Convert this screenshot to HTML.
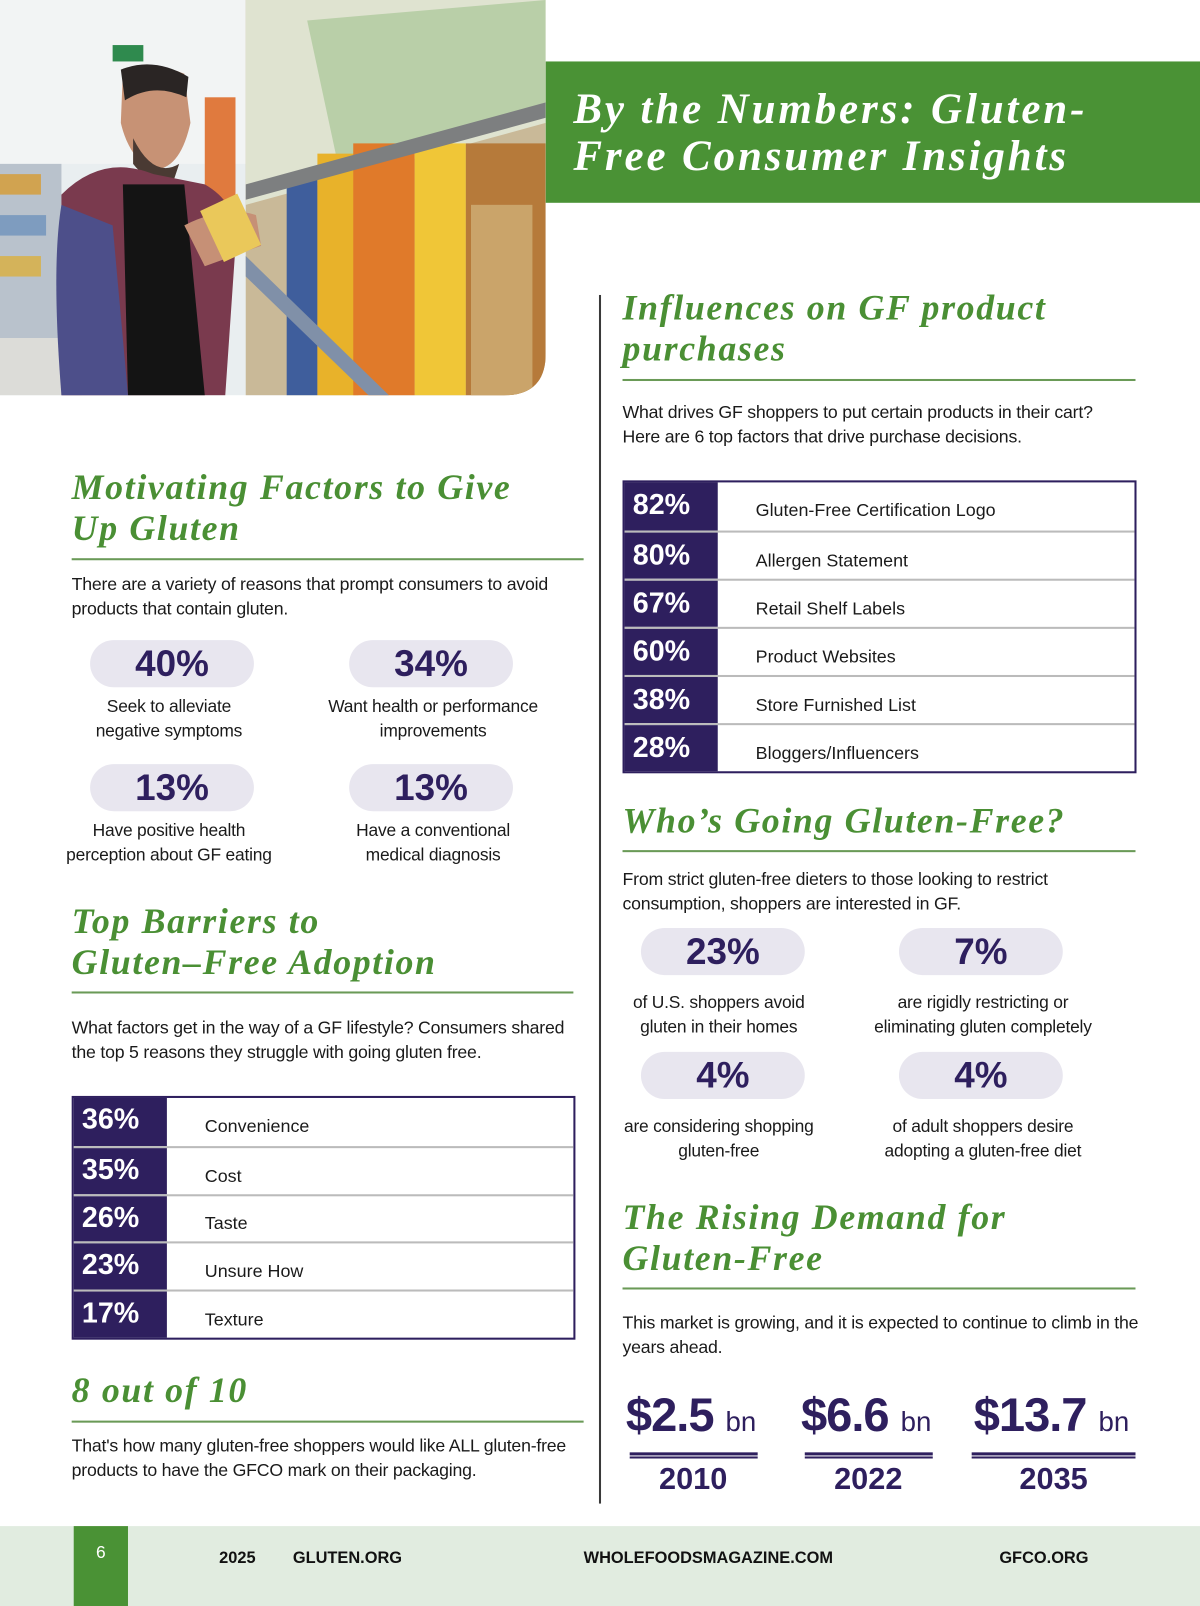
<!DOCTYPE html>
<html><head><meta charset="utf-8">
<style>
html,body{margin:0;padding:0;width:1200px;height:1606px;overflow:hidden;background:#fff}
#wrap{position:absolute;left:0;top:0;width:1172px;height:1568px;transform:scale(1.02389,1.02423);transform-origin:0 0;font-family:"Liberation Sans",sans-serif;color:#1a1a1a}
.abs{position:absolute}
.h{position:absolute;font-family:"Liberation Serif",serif;font-weight:bold;font-style:italic;color:#4a8f34;font-size:35px;line-height:40px;letter-spacing:1.6px;white-space:nowrap}
.rule{position:absolute;height:2px;background:#6a9a57}
.p{position:absolute;font-size:17.3px;line-height:24px;color:#1a1a1a;letter-spacing:-0.2px}
.pill{position:absolute;width:160px;height:46px;border-radius:23px;background:#e8e6ef;color:#2e1f5e;font-weight:bold;font-size:36px;line-height:46px;text-align:center}
.lbl{position:absolute;width:280px;text-align:center;font-size:17px;line-height:24px;letter-spacing:-0.2px}
.tbl{position:absolute;border:2px solid #2e1f5e;box-sizing:border-box;background:#fff}
.row{position:absolute;left:0;right:0;border-top:2px solid #bbb;box-sizing:border-box}
.pct{position:absolute;left:0;top:0;bottom:0;background:#2e1f5e;color:#fff;font-weight:bold;font-size:28px;padding-left:8px;box-sizing:border-box}
.nm{position:absolute;font-size:17.5px}
.big{position:absolute;color:#2e1f5e;font-weight:bold;font-size:46px;text-align:center;width:160px;letter-spacing:-1px}
.big span{font-weight:normal;font-size:27px;letter-spacing:0}
.dl{position:absolute;height:6px;border-top:3px solid #2e1f5e;border-bottom:2px solid #2e1f5e;box-sizing:border-box}
.yr{position:absolute;color:#2e1f5e;font-weight:bold;font-size:30px;text-align:center;width:140px}
.ft{position:absolute;top:1513px;font-weight:bold;font-size:16px;color:#111}
</style></head><body>
<div id="wrap">

<svg class="abs" style="left:0;top:0" width="533" height="386">
<defs><clipPath id="c"><path d="M0 0H533V345Q533 386 492 386H0Z"/></clipPath></defs>
<g clip-path="url(#c)">
<rect width="533" height="386" fill="#e9eef0"/>
<rect x="0" y="0" width="260" height="160" fill="#f2f4f4"/>
<rect x="0" y="160" width="60" height="170" fill="#b9c2cc"/>
<rect x="0" y="170" width="40" height="20" fill="#d1a350"/><rect x="0" y="210" width="45" height="20" fill="#7e9cbf"/><rect x="0" y="250" width="40" height="20" fill="#d4b35a"/>
<rect x="0" y="330" width="80" height="56" fill="#dcdcd8"/>
<rect x="110" y="44" width="30" height="16" fill="#2f8a4e"/>
<rect x="200" y="95" width="30" height="120" fill="#e07a3e"/>
<polygon points="240,0 533,0 533,386 240,386" fill="#c9b998"/>
<polygon points="240,0 533,0 533,120 240,200" fill="#dfe3d0"/>
<polygon points="300,20 533,0 533,100 330,160" fill="#b9cfa8"/>
<rect x="280" y="170" width="30" height="216" fill="#3f5e9c"/>
<rect x="310" y="150" width="40" height="236" fill="#e8b22a"/>
<rect x="345" y="140" width="60" height="246" fill="#e07a2a"/>
<rect x="405" y="140" width="50" height="246" fill="#f0c637"/>
<rect x="455" y="140" width="78" height="246" fill="#b67a3a"/>
<rect x="460" y="200" width="60" height="186" fill="#caa46a"/>
<polygon points="240,180 533,100 533,115 240,195" fill="#7d7f80"/>
<polygon points="240,250 380,386 360,386 240,270" fill="#8090a8"/>
<path d="M120 70Q150 60 180 72L186 120Q175 170 145 165Q125 150 118 120Z" fill="#c79275"/>
<path d="M118 68Q150 55 184 75L182 95Q150 80 122 98Z" fill="#2a2524"/>
<path d="M130 135Q150 175 175 160L170 175Q145 180 130 160Z" fill="#4a3a33"/>
<path d="M60 190Q100 150 150 170L200 180Q235 200 230 240L220 386H60Z" fill="#7a3a4e"/>
<path d="M120 180L180 180L200 386H125Z" fill="#141414"/>
<path d="M60 200Q50 260 60 386H125L110 220Z" fill="#4d4f8a"/>
<path d="M180 220Q220 200 250 210L255 240L200 260Z" fill="#c69076"/>
<rect x="205" y="195" width="40" height="55" fill="#eac85a" transform="rotate(-25 225 222)"/>
</g></svg>

<div class="abs" style="left:533px;top:60px;width:639px;height:138px;background:#4a9235"></div>
<div class="abs" style="left:560px;top:84px;width:610px;font-family:'Liberation Serif',serif;font-weight:bold;font-style:italic;color:#fff;font-size:42px;line-height:46px;letter-spacing:2.8px;white-space:nowrap">By the Numbers: Gluten-<br>Free Consumer Insights</div>

<!-- left column -->
<div class="h" style="left:70px;top:456px">Motivating Factors to Give<br>Up Gluten</div>
<div class="rule" style="left:70px;top:545px;width:500px"></div>
<div class="p" style="left:70px;top:558px;width:500px">There are a variety of reasons that prompt consumers to avoid products that contain gluten.</div>

<div class="h" style="left:70px;top:880px">Top Barriers to<br>Gluten–Free Adoption</div>
<div class="rule" style="left:70px;top:968px;width:490px"></div>
<div class="p" style="left:70px;top:991px;width:500px">What factors get in the way of a GF lifestyle? Consumers shared the top 5 reasons they struggle with going gluten free.</div>
<div class="tbl" id="tbl1" style="left:70px;top:1070px;width:492px;height:238px"></div>

<div class="h" style="left:70px;top:1338px">8 out of 10</div>
<div class="rule" style="left:70px;top:1387px;width:500px"></div>
<div class="p" style="left:70px;top:1399px;width:485px">That's how many gluten-free shoppers would like ALL gluten-free products to have the GFCO mark on their packaging.</div>

<div class="abs" style="left:585px;top:288px;width:2px;height:1180px;background:#3a3a3a"></div>

<!-- right column -->
<div class="h" style="left:608px;top:281px">Influences on GF product<br>purchases</div>
<div class="rule" style="left:608px;top:370px;width:501px"></div>
<div class="p" style="left:608px;top:390px;width:500px">What drives GF shoppers to put certain products in their cart? Here are 6 top factors that drive purchase decisions.</div>
<div class="tbl" id="tbl2" style="left:608px;top:469px;width:502px;height:286px"></div>

<div class="h" style="left:608px;top:782px">Who’s Going Gluten-Free?</div>
<div class="rule" style="left:608px;top:830px;width:501px"></div>
<div class="p" style="left:608px;top:846px;width:470px">From strict gluten-free dieters to those looking to restrict consumption, shoppers are interested in GF.</div>

<div class="h" style="left:608px;top:1169px">The Rising Demand for<br>Gluten-Free</div>
<div class="rule" style="left:608px;top:1257px;width:501px"></div>
<div class="p" style="left:608px;top:1279px;width:515px">This market is growing, and it is expected to continue to climb in the years ahead.</div>

<!-- footer -->
<div class="abs" style="left:0;top:1490px;width:1172px;height:78px;background:#e1ece0"></div>
<div class="abs" style="left:72px;top:1490px;width:53px;height:78px;background:#4a9235;color:#fff;font-size:17px;text-align:center;padding-top:16px;box-sizing:border-box">6</div>
<div class="ft" style="left:214px">2025</div>
<div class="ft" style="left:286px">GLUTEN.ORG</div>
<div class="ft" style="left:570px">WHOLEFOODSMAGAZINE.COM</div>
<div class="ft" style="left:976px">GFCO.ORG</div>
</div>

<script>
const motivValues=['40%','34%','13%','13%'];
const motivLabels=['Seek to alleviate<br>negative symptoms','Want health or performance<br>improvements','Have positive health<br>perception about GF eating','Have a conventional<br>medical diagnosis'];
const barrierValues=['36%','35%','26%','23%','17%'];
const barrierLabels=['Convenience','Cost','Taste','Unsure How','Texture'];
const influenceValues=['82%','80%','67%','60%','38%','28%'];
const influenceLabels=['Gluten-Free Certification Logo','Allergen Statement','Retail Shelf Labels','Product Websites','Store Furnished List','Bloggers/Influencers'];
const whoValues=['23%','7%','4%','4%'];
const whoLabels=['of U.S. shoppers avoid<br>gluten in their homes','are rigidly restricting or<br>eliminating gluten completely','are considering shopping<br>gluten-free','of adult shoppers desire<br>adopting a gluten-free diet'];
const marketValues=['$2.5','$6.6','$13.7'];
const marketYears=['2010','2022','2035'];

function stats(vals,labs,cx,lx,y0,dy,lblOff,prefix){
  const W=document.getElementById('wrap');
  vals.forEach((v,i)=>{
    const x=cx[i%2], y=y0+Math.floor(i/2)*dy;
    const p=document.createElement('div');p.className='pill';
    
    
    p.style.left=(x-80)+'px';p.style.top=y+'px';p.textContent=v;W.appendChild(p);
    const l=document.createElement('div');l.className='lbl';
    
    
    l.style.left=(lx[i%2]-140)+'px';l.style.top=(y+lblOff)+'px';l.innerHTML=labs[i];W.appendChild(l);
  });
}
stats(motivValues,motivLabels,[168,421],[165,423],625,121,53,'motivating');
stats(whoValues,whoLabels,[706,958],[702,960],906,121,61,'whos-going');

function table(id,vals,labs,pctW,txtX){
  const t=document.getElementById(id);
  const h=(t.clientHeight)/vals.length;
  vals.forEach((v,i)=>{
    const r=document.createElement('div');r.className='row';
    
    
    r.style.top=(i*h)+'px';r.style.height=h+'px';
    if(i===0)r.style.borderTop='none';
    const p=document.createElement('div');p.className='pct';
    
    
    p.style.width=pctW+'px';p.style.lineHeight=(h-4)+'px';p.textContent=v;
    const n=document.createElement('div');n.className='nm';
    
    
    n.style.left=txtX+'px';n.style.top=(h-30)+'px';n.textContent=labs[i];
    r.appendChild(p);r.appendChild(n);t.appendChild(r);
  });
}
table('tbl1',barrierValues,barrierLabels,91,128);
table('tbl2',influenceValues,influenceLabels,91,128);

(function(){
  const W=document.getElementById('wrap');
  const cx=[675,846,1027];
  marketValues.forEach((v,i)=>{
    const b=document.createElement('div');b.className='big';
    
    
    b.style.top='1354px';b.style.width='180px';b.style.left=(cx[i]-90)+'px';
    b.innerHTML=v+' <span>bn</span>';W.appendChild(b);
    const d=document.createElement('div');d.className='dl';
    
    
    const w=i===2?160:125;
    d.style.left=(cx[i]-w/2+2)+'px';d.style.width=w+'px';d.style.top='1418px';W.appendChild(d);
    const y=document.createElement('div');y.className='yr';
    
    
    y.style.left=(cx[i]-70+2)+'px';y.style.top='1428px';y.textContent=marketYears[i];W.appendChild(y);
  });
})();
</script>
</body></html>
